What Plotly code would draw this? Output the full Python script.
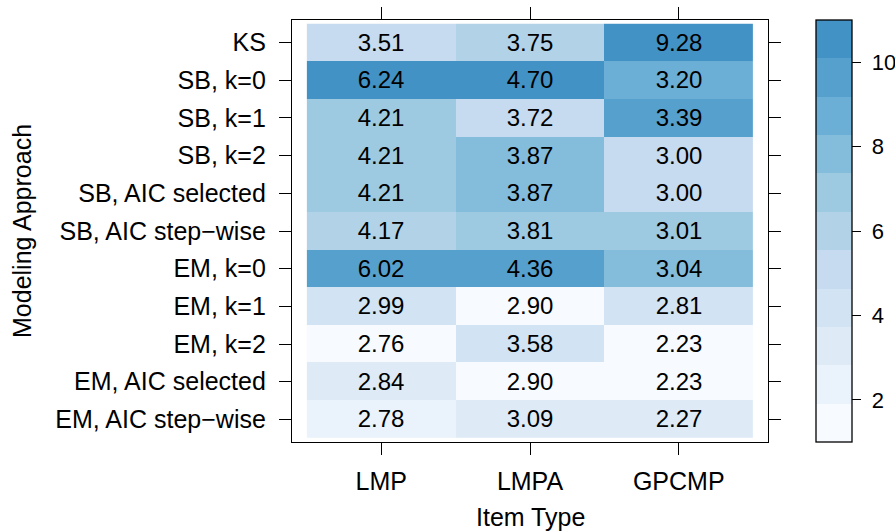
import numpy as np
import pandas as pd
import plotly.graph_objects as go

# Modeling approaches (rows, top to bottom) and item types (columns)
approaches = [
    "KS", "SB, k=0", "SB, k=1", "SB, k=2", "SB, AIC selected",
    "SB, AIC step\u2212wise", "EM, k=0", "EM, k=1", "EM, k=2",
    "EM, AIC selected", "EM, AIC step\u2212wise",
]
item_types = ["LMP", "LMPA", "GPCMP"]

# Values per item type, one entry per modeling approach
lmp = [3.51, 6.24, 4.21, 4.21, 4.21, 4.17, 6.02, 2.99, 2.76, 2.84, 2.78]
lmpa = [3.75, 4.70, 3.72, 3.87, 3.87, 3.81, 4.36, 2.90, 3.58, 2.90, 3.09]
gpcmp = [9.28, 3.20, 3.39, 3.00, 3.00, 3.01, 3.04, 2.81, 2.23, 2.23, 2.27]

# Colour key ticks
key_ticks = [2, 4, 6, 8, 10]

df = pd.DataFrame({"LMP": lmp, "LMPA": lmpa, "GPCMP": gpcmp}, index=approaches)

# Cell shading: rank of each value within its item type (ties share the lowest rank)
ranks = df.rank(method="min")

# 11-step blue ramp (first six Brewer "Blues" colours interpolated)
blues = ["#F7FBFF", "#EAF3FB", "#DEEBF7", "#D2E3F3", "#C6DBEF", "#B2D2E8",
         "#9ECAE1", "#84BCDB", "#6BAED6", "#56A0CE", "#4292C6"]
n = len(blues)
colorscale = []
for i, c in enumerate(blues):
    colorscale.append([i / n, c])
    colorscale.append([(i + 1) / n, c])

FONT = "Liberation Sans, Arial, Helvetica, sans-serif"

# plot area in pixels
L, R, T, B = 292, 127, 20, 89
W, H = 895, 531
PW, PH = W - L - R, H - T - B

fig = go.Figure(
    go.Heatmap(
        z=ranks.values,
        x=item_types,
        y=approaches,
        text=df.map(lambda v: f"{v:.2f}").values,
        texttemplate="%{text}",
        textfont=dict(family=FONT, size=24, color="black"),
        colorscale=colorscale,
        zmin=1,
        zmax=11,
        xgap=0,
        ygap=0,
        hoverinfo="skip",
        colorbar=dict(
            x=(816 - L) / PW,
            xanchor="left",
            xpad=0,
            y=0.5,
            yanchor="middle",
            len=1,
            lenmode="fraction",
            ypad=0,
            thickness=36,
            thicknessmode="pixels",
            outlinewidth=1.3,
            outlinecolor="black",
            tickmode="array",
            tickvals=key_ticks,
            ticktext=[f" {t}" for t in key_ticks],
            ticks="outside",
            ticklen=9,
            tickwidth=1.3,
            tickcolor="black",
            tickfont=dict(family=FONT, size=22, color="black"),
        ),
    )
)

axis_common = dict(
    showline=True,
    linecolor="black",
    linewidth=1.3,
    mirror="ticks",
    ticks="outside",
    ticklen=12,
    tickwidth=1.3,
    tickcolor="black",
    showgrid=False,
    zeroline=False,
    tickfont=dict(family=FONT, size=25, color="black"),
)

fig.update_xaxes(
    type="category",
    categoryorder="array",
    categoryarray=item_types,
    range=[-0.6, 2.6],
    ticklabelstandoff=5,
    **axis_common,
)
fig.update_yaxes(
    type="category",
    categoryorder="array",
    categoryarray=approaches,
    range=[10.6, -0.6],
    ticklabelstandoff=8,
    **axis_common,
)

fig.update_layout(
    width=W,
    height=H,
    margin=dict(l=L, r=R, t=T, b=B, autoexpand=False),
    paper_bgcolor="white",
    plot_bgcolor="white",
    font=dict(family=FONT, color="black"),
    annotations=[
        dict(
            text="Item Type",
            xref="paper", yref="paper",
            x=0.5, y=(PH - (533 - T)) / PH,
            xanchor="center", yanchor="bottom",
            showarrow=False,
            font=dict(family=FONT, size=25, color="black"),
        ),
        dict(
            text="Modeling Approach",
            xref="paper", yref="paper",
            x=(22 - L) / PW, y=0.5,
            xanchor="center", yanchor="middle",
            textangle=-90,
            showarrow=False,
            font=dict(family=FONT, size=25, color="black"),
        ),
    ],
)

fig.write_html("out.html")
